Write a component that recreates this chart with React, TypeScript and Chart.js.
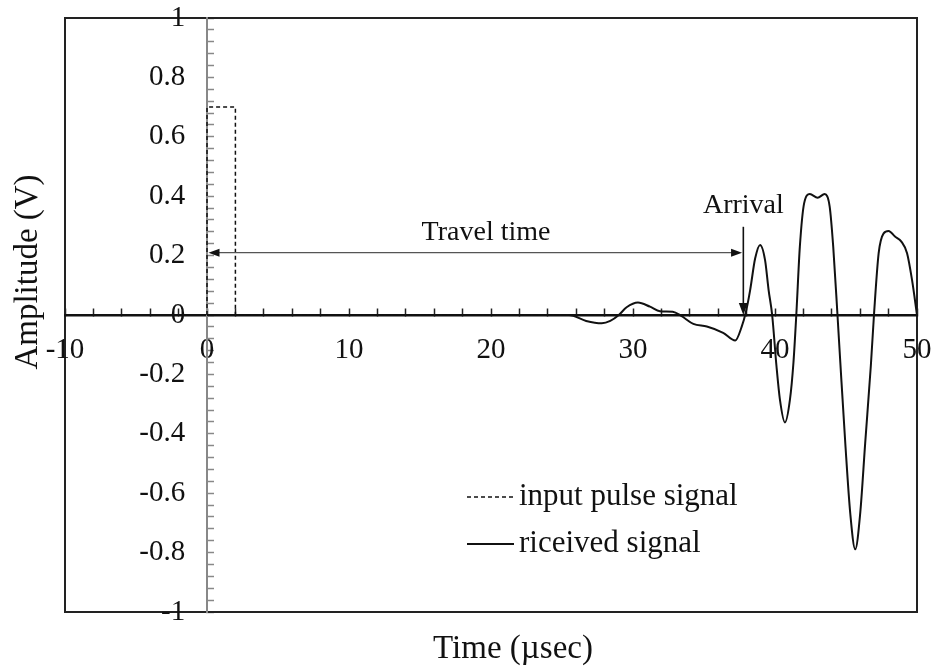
import React, { useEffect, useRef } from "react";
import { Chart, registerables } from "chart.js";

Chart.register(...registerables);

// ---------- data ----------
const xMin = -10;
const xMax = 50;
const yMin = -1;
const yMax = 1;
const xTickStep = 2;
const yTickStep = 0.04;

const seriesNames = ["input pulse signal", "riceived signal"];

const pulseTime = [0, 0, 2, 2, 50];
const pulseAmp = [0, 0.7, 0.7, 0, 0];

const recvTime = [
  0, 25.5, 26.7, 27.8, 28.4, 29.0, 29.55, 30.35, 31.2, 31.9, 32.8, 33.4, 34.25, 35.2,
  36.35, 37.2, 37.65, 37.95, 38.25, 38.6, 38.95, 39.3, 39.55, 39.8, 40.1, 40.35, 40.7,
  41.05, 41.3, 41.5, 41.75, 42.05, 42.45, 43.0, 43.5, 43.85, 44.1, 44.4, 44.6, 44.95,
  45.3, 45.65, 46.0, 46.35, 46.75, 46.97, 47.3, 47.65, 48.0, 48.45, 48.9, 49.3, 49.65, 50,
];
const recvAmp = [
  0, 0, -0.02, -0.028, -0.02, 0, 0.026, 0.042, 0.028, 0.013, 0.011, -0.003, -0.03, -0.039,
  -0.06, -0.086, -0.04, 0.01, 0.084, 0.19, 0.236, 0.185, 0.084, 0, -0.17, -0.286, -0.362,
  -0.286, -0.16, 0, 0.23, 0.376, 0.407, 0.395, 0.407, 0.365, 0.23, 0, -0.16, -0.432,
  -0.668, -0.789, -0.668, -0.432, -0.17, 0, 0.208, 0.275, 0.283, 0.264, 0.247, 0.208, 0.118, 0,
];

const xTitle = "Time (µsec)";
const yTitle = "Amplitude (V)";

const travelLabel = "Travel time";
const travelStart = 0;
const travelEnd = 37.68;
const travelLevel = 0.21;
const travelLabelX = 19.65;
const travelLabelY = 0.2525;

const arrivalLabel = "Arrival";
const arrivalTime = 37.77;
const arrivalTop = 0.297;
const arrivalLabelY = 0.343;

// ---------- style ----------
const FONT = '"Liberation Serif", "Times New Roman", serif';
const INK = "#111";
const Y_LABEL_GAP = "   ";

function arrowHead(ctx: CanvasRenderingContext2D, tx: number, ty: number, dx: number, dy: number, len: number, half: number) {
  const bx = tx - dx * len;
  const by = ty - dy * len;
  const px = -dy;
  const py = dx;
  ctx.beginPath();
  ctx.moveTo(tx, ty);
  ctx.lineTo(bx + px * half, by + py * half);
  ctx.lineTo(bx - px * half, by - py * half);
  ctx.closePath();
  ctx.fill();
}

const annotationPlugin = {
  id: "annotations",
  afterDatasetsDraw(chart: any) {
    const { ctx } = chart;
    const xs = chart.scales.x;
    const ys = chart.scales.y;
    ctx.save();
    // travel time double arrow
    const ty = ys.getPixelForValue(travelLevel);
    const x0 = xs.getPixelForValue(travelStart) + 1.5;
    const x1 = xs.getPixelForValue(travelEnd);
    ctx.strokeStyle = "#555";
    ctx.lineWidth = 1.2;
    ctx.beginPath();
    ctx.moveTo(x0 + 6, ty);
    ctx.lineTo(x1 - 6, ty);
    ctx.stroke();
    ctx.fillStyle = INK;
    arrowHead(ctx, x0, ty, -1, 0, 11, 4);
    arrowHead(ctx, x1, ty, 1, 0, 11, 4);
    // arrival arrow
    const ax = xs.getPixelForValue(arrivalTime);
    const ay0 = ys.getPixelForValue(arrivalTop);
    const ay1 = ys.getPixelForValue(0);
    ctx.strokeStyle = INK;
    ctx.lineWidth = 1.6;
    ctx.beginPath();
    ctx.moveTo(ax, ay0);
    ctx.lineTo(ax, ay1 - 8);
    ctx.stroke();
    arrowHead(ctx, ax, ay1, 0, 1, 12, 4.5);
    // labels
    ctx.font = `28px ${FONT}`;
    ctx.fillStyle = INK;
    ctx.textAlign = "center";
    ctx.textBaseline = "alphabetic";
    ctx.fillText(travelLabel, xs.getPixelForValue(travelLabelX), ys.getPixelForValue(travelLabelY));
    ctx.fillText(arrivalLabel, ax, ys.getPixelForValue(arrivalLabelY));
    ctx.restore();
  },
};

const titlesLegendPlugin = {
  id: "titlesLegend",
  afterDraw(chart: any) {
    const { ctx } = chart;
    ctx.save();
    ctx.fillStyle = INK;
    ctx.font = `33px ${FONT}`;
    ctx.textAlign = "center";
    ctx.textBaseline = "alphabetic";
    ctx.fillText(xTitle, 513, 658);
    ctx.save();
    ctx.translate(37, 272);
    ctx.rotate(-Math.PI / 2);
    ctx.fillText(yTitle, 0, 0);
    ctx.restore();
    // legend
    const rows = [497, 544];
    chart.data.datasets.forEach((ds: any, i: number) => {
      const y = rows[i];
      ctx.strokeStyle = ds.borderColor;
      ctx.lineWidth = ds.borderWidth;
      ctx.setLineDash(ds.borderDash || []);
      ctx.beginPath();
      ctx.moveTo(467, y);
      ctx.lineTo(514, y);
      ctx.stroke();
      ctx.setLineDash([]);
      ctx.font = `31px ${FONT}`;
      ctx.textAlign = "left";
      ctx.textBaseline = "middle";
      ctx.fillStyle = INK;
      ctx.fillText(ds.label, 519, y);
    });
    ctx.restore();
  },
};

const noLayoutPadding = (s: any) => {
  s.paddingLeft = 0;
  s.paddingRight = 0;
  s.paddingTop = 0;
  s.paddingBottom = 0;
};

export default function App() {
  const ref = useRef<HTMLCanvasElement | null>(null);
  useEffect(() => {
    if (!ref.current) return;
    const frame = { display: true, color: "#222", width: 2 };
    const hidden = { display: false };
    const noGrid = { display: false, drawTicks: false };
    const chart = new Chart(ref.current, {
      type: "line",
      data: {
        datasets: [
          {
            label: seriesNames[0],
            data: pulseTime.map((t, i) => ({ x: t, y: pulseAmp[i] })),
            borderColor: INK,
            borderWidth: 1.5,
            borderDash: [4, 3],
            pointRadius: 0,
            tension: 0,
            fill: false,
          },
          {
            label: seriesNames[1],
            data: recvTime.map((t, i) => ({ x: t, y: recvAmp[i] })),
            borderColor: INK,
            borderWidth: 2,
            pointRadius: 0,
            cubicInterpolationMode: "monotone",
            fill: false,
          },
        ],
      },
      options: {
        animation: false,
        responsive: false,
        layout: { padding: { left: 65, right: 16, top: 18, bottom: 55 } },
        plugins: { legend: { display: false }, tooltip: { enabled: false } },
        scales: {
          x: { type: "linear", min: xMin, max: xMax, position: "bottom", ticks: hidden, grid: noGrid, border: frame },
          y: { type: "linear", min: yMin, max: yMax, position: "left", ticks: hidden, grid: noGrid, border: frame },
          xTop: { type: "linear", min: xMin, max: xMax, position: "top", ticks: hidden, grid: noGrid, border: frame },
          yRight: { type: "linear", min: yMin, max: yMax, position: "right", ticks: hidden, grid: noGrid, border: frame },
          xAxis0: {
            type: "linear",
            min: xMin,
            max: xMax,
            position: { y: 0 },
            afterFit: noLayoutPadding,
            ticks: {
              stepSize: xTickStep,
              autoSkip: false,
              maxRotation: 0,
              padding: 26,
              color: INK,
              font: { family: FONT, size: 29 },
              callback: (v: any) => (Math.round(v) % 10 === 0 ? String(Math.round(v)) : ""),
            },
            grid: { display: true, drawOnChartArea: false, drawTicks: true, tickLength: -8, tickColor: "#222", tickWidth: 1.5 },
            border: { display: true, color: INK, width: 2.5 },
          },
          yAxis0: {
            type: "linear",
            min: yMin,
            max: yMax,
            position: { x: 0 },
            afterFit: noLayoutPadding,
            ticks: {
              stepSize: yTickStep,
              autoSkip: false,
              padding: 0,
              color: INK,
              font: { family: FONT, size: 29 },
              callback: (v: any) => {
                const r = Math.round(v * 100);
                return r % 20 === 0 ? String(r / 100) + Y_LABEL_GAP : "";
              },
            },
            grid: { display: true, drawOnChartArea: false, drawTicks: true, tickLength: -8, tickColor: "#888", tickWidth: 1.5 },
            border: { display: true, color: "#888", width: 2 },
          },
        },
      } as any,
      plugins: [annotationPlugin, titlesLegendPlugin],
    });
    return () => chart.destroy();
  }, []);
  return (
    <div style={{ position: "absolute", left: 0, top: 0, width: 933, height: 667, background: "#fff" }}>
      <canvas ref={ref} width={933} height={667} style={{ display: "block" }} />
    </div>
  );
}
